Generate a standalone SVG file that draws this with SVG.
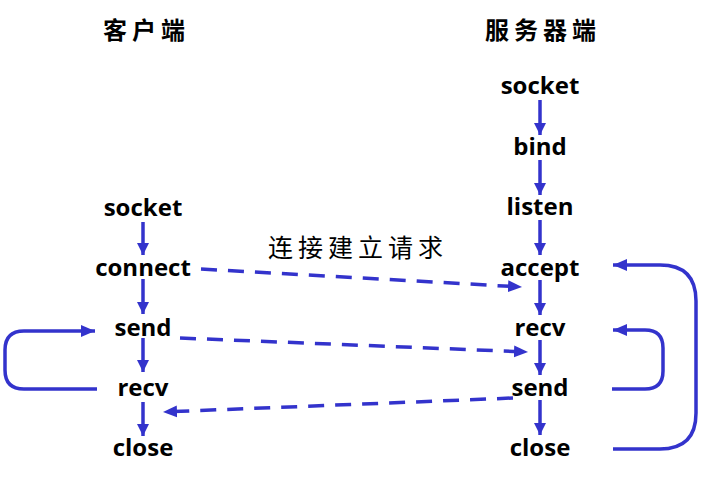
<svg xmlns="http://www.w3.org/2000/svg" width="715" height="494" viewBox="0 0 715 494">
<style>
.t{font-family:"Open Sans","Liberation Sans",sans-serif;font-weight:bold;font-size:24px;fill:#000;text-anchor:middle}
.h{font-family:"Noto Sans CJK SC",sans-serif;font-weight:bold;font-size:24px;fill:#000;letter-spacing:5px}
.s{fill:none;stroke:#3333cc;stroke-width:3.5}
.d{fill:none;stroke:#3333cc;stroke-width:3.5;stroke-dasharray:16 11}
</style>
<defs>
<marker id="a" markerWidth="12" markerHeight="12" viewBox="0 0 12 12" refX="12" refY="6" orient="auto" markerUnits="userSpaceOnUse">
<path d="M0,0 L12,6 L0,12 Z" fill="#3333cc"/>
</marker>
<marker id="b" markerWidth="14" markerHeight="14" viewBox="0 0 14 14" refX="14" refY="7" orient="auto" markerUnits="userSpaceOnUse">
<path d="M0,1 L14,7 L0,13 Z" fill="#3333cc"/>
</marker>
</defs>
<g id="titles">
<text class="h" x="103" y="39">客户端</text>
<text class="h" x="485" y="39">服务器端</text>
<text class="h" x="268" y="257" style="font-size:25px;font-weight:normal">连接建立请求</text>
</g>
<g id="client">
<g id="c-socket"><text class="t" x="143" y="216">socket</text></g>
<g id="c-connect"><text class="t" x="143" y="276">connect</text></g>
<g id="c-send"><text class="t" x="143" y="336">send</text></g>
<g id="c-recv"><text class="t" x="143" y="396">recv</text></g>
<g id="c-close"><text class="t" x="143" y="456">close</text></g>
</g>
<g id="server">
<g id="s-socket"><text class="t" x="540" y="94">socket</text></g>
<g id="s-bind"><text class="t" x="540" y="155">bind</text></g>
<g id="s-listen"><text class="t" x="540" y="215">listen</text></g>
<g id="s-accept"><text class="t" x="540" y="276">accept</text></g>
<g id="s-recv"><text class="t" x="540" y="336">recv</text></g>
<g id="s-send"><text class="t" x="540" y="396">send</text></g>
<g id="s-close"><text class="t" x="540" y="456">close</text></g>
</g>
<g id="connectors">
<line class="s" x1="143" y1="222" x2="143" y2="255" marker-end="url(#a)"/>
<line class="s" x1="143" y1="279" x2="143" y2="314" marker-end="url(#a)"/>
<line class="s" x1="143" y1="338" x2="143" y2="372" marker-end="url(#a)"/>
<line class="s" x1="143" y1="402" x2="143" y2="436" marker-end="url(#a)"/>
<line class="s" x1="540" y1="100" x2="540" y2="135" marker-end="url(#a)"/>
<line class="s" x1="540" y1="160" x2="540" y2="195" marker-end="url(#a)"/>
<line class="s" x1="540" y1="220" x2="540" y2="255" marker-end="url(#a)"/>
<line class="s" x1="540" y1="280" x2="540" y2="315" marker-end="url(#a)"/>
<line class="s" x1="540" y1="340" x2="540" y2="375" marker-end="url(#a)"/>
<line class="s" x1="540" y1="400" x2="540" y2="435" marker-end="url(#a)"/>
<path class="s" d="M97,389 L24,389 Q5,389 5,370 L5,350 Q5,331 24,331 L95,331" marker-end="url(#b)"/>
<path class="s" d="M612,389 L645,389 Q663,389 663,371 L663,348 Q663,330 645,330 L613,330" marker-end="url(#b)"/>
<path class="s" d="M613,449 L660,449 Q696,449 696,413 L696,301 Q696,265 660,265 L613,265" marker-end="url(#b)"/>
<line class="d" x1="201" y1="269" x2="522" y2="287" marker-end="url(#b)"/>
<line class="d" x1="180" y1="338" x2="528" y2="352" marker-end="url(#b)"/>
<line class="d" x1="513" y1="398" x2="163" y2="412" marker-end="url(#b)"/>
</g>
</svg>
